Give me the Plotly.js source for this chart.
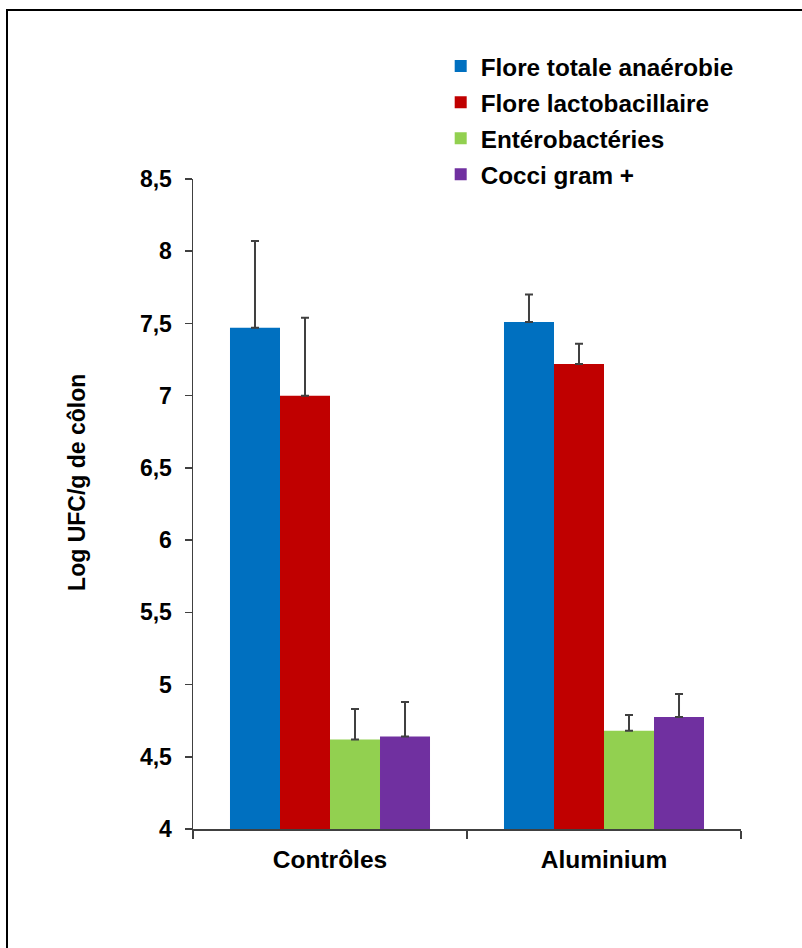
<!DOCTYPE html>
<html>
<head>
<meta charset="utf-8">
<script src="https://cdn.plot.ly/plotly-3.0.1.min.js"></script>
<style>
  html, body { margin: 0; padding: 0; background: #fff; }
  #chart { width: 802px; height: 948px; }
  #frame { position: absolute; left: 6px; top: 9px; width: 900px; height: 1000px;
           border-left: 2px solid #000; border-top: 2px solid #000; pointer-events: none; }
</style>
</head>
<body>
<div id="chart"></div>
<div id="frame"></div>
<script>
const categories = ["Contrôles", "Aluminium"];
const seriesNames = ["Flore totale anaérobie", "Flore lactobacillaire", "Entérobactéries", "Cocci gram +"];
const floreTotale = [7.47, 7.51];
const floreTotaleErr = [0.60, 0.19];
const floreLacto = [7.00, 7.22];
const floreLactoErr = [0.54, 0.14];
const enterobacteries = [4.62, 4.68];
const enterobacteriesErr = [0.21, 0.11];
const cocci = [4.64, 4.775];
const cocciErr = [0.24, 0.16];
const colors = ["#0070C0", "#C00000", "#92D050", "#7030A0"];
const yTitle = "Log UFC/g de côlon";

const values = [floreTotale, floreLacto, enterobacteries, cocci];
const errs = [floreTotaleErr, floreLactoErr, enterobacteriesErr, cocciErr];
const FONT = "Arial, 'Liberation Sans', sans-serif";

const traces = seriesNames.map((name, i) => ({
  type: "bar",
  name: name,
  x: categories,
  y: values[i],
  legendgroup: "g" + i,
  marker: { color: colors[i], line: { width: 0 } },
  error_y: { type: "data", symmetric: false, array: errs[i], arrayminus: [0, 0],
             color: "#404040", thickness: 2, width: 4 },
  hoverinfo: "none"
}));

const layout = {
  width: 802, height: 948,
  margin: { l: 193, r: 61, t: 179, b: 119 },
  paper_bgcolor: "#ffffff", plot_bgcolor: "#ffffff",
  separators: ",.",
  font: { family: FONT, color: "#000", size: 23 },
  barmode: "group",
  bargap: 0.27,
  bargroupgap: 0,
  showlegend: true,
  legend: {
    x: 0.452, xanchor: "left", y: 1.208, yanchor: "top",
    font: { family: FONT, size: 24.3, color: "#000", weight: "bold" },
    tracegroupgap: 1.5, bgcolor: "rgba(0,0,0,0)", itemclick: false
  },
  xaxis: {
    type: "category",
    showline: true, linecolor: "#404040", linewidth: 1.5,
    ticks: "outside", tickson: "boundaries", ticklen: 8, tickcolor: "#404040", tickwidth: 1.5,
    tickfont: { family: FONT, size: 24.5, weight: "bold" },
    ticklabelstandoff: 8,
    showgrid: false, zeroline: false, fixedrange: true
  },
  yaxis: {
    range: [4, 8.5], dtick: 0.5, tick0: 4,
    showline: true, linecolor: "#404040", linewidth: 1.5,
    ticks: "outside", ticklen: 7, tickcolor: "#404040", tickwidth: 1.5,
    tickfont: { family: FONT, size: 23, weight: "bold" },
    ticklabelstandoff: 8,
    showgrid: false, zeroline: false, fixedrange: true
  },
  annotations: [{
    text: yTitle, xref: "paper", yref: "paper", x: -0.2117, y: 0.534,
    xanchor: "center", yanchor: "middle", textangle: -90, showarrow: false,
    font: { family: FONT, size: 23, weight: "bold", color: "#000" }
  }]
};

Plotly.newPlot("chart", traces, layout, { staticPlot: true, displayModeBar: false });
</script>
</body>
</html>
